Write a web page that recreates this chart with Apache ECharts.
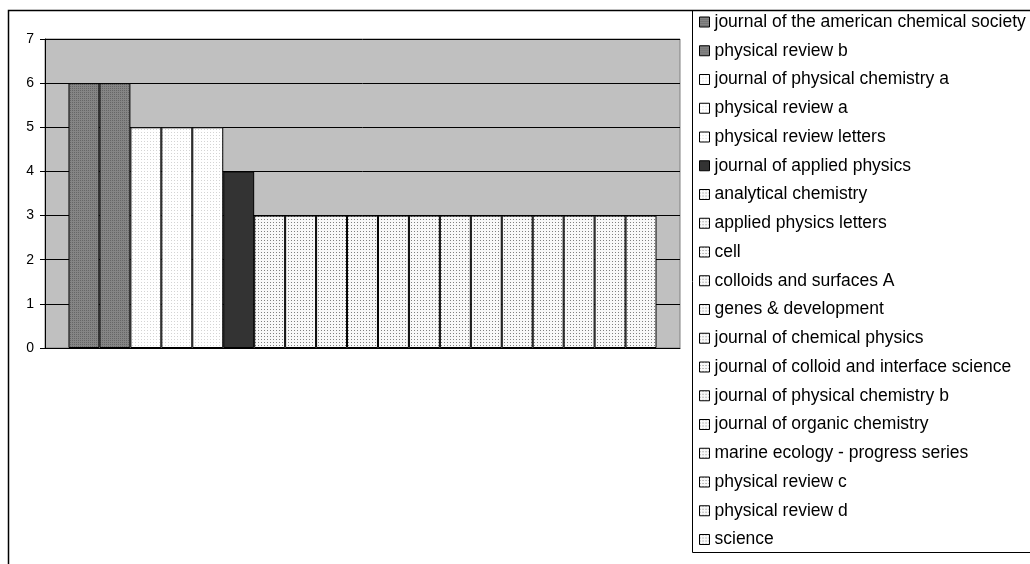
<!DOCTYPE html>
<html><head><meta charset="utf-8">
<script src="https://cdn.jsdelivr.net/npm/echarts@6/dist/echarts.min.js"></script>
<style>html,body{margin:0;padding:0;background:#fff}#c{width:1030px;height:564px}</style>
</head><body><div id="c"></div>
<script>
const journals = [
  "journal of the american chemical society",
  "physical review b",
  "journal of physical chemistry a",
  "physical review a",
  "physical review letters",
  "journal of applied physics",
  "analytical chemistry",
  "applied physics letters",
  "cell",
  "colloids and surfaces A",
  "genes & development",
  "journal of chemical physics",
  "journal of colloid and interface science",
  "journal of physical chemistry b",
  "journal of organic chemistry",
  "marine ecology - progress series",
  "physical review c",
  "physical review d",
  "science"
];
const counts = [6, 6, 5, 5, 5, 4, 3, 3, 3, 3, 3, 3, 3, 3, 3, 3, 3, 3, 3];
const yTicks = [0, 1, 2, 3, 4, 5, 6, 7];

function pattern(bg, dot, step) {
  const c = document.createElement('canvas');
  c.width = step; c.height = step;
  const g = c.getContext('2d');
  g.fillStyle = bg; g.fillRect(0, 0, step, step);
  g.fillStyle = dot; g.fillRect(0, 0, 1, 1);
  return { image: c, repeat: 'repeat' };
}
const fills = {
  gray: pattern('#858585', '#666666', 2),
  white: pattern('#ffffff', '#d4d4d4', 3),
  black: '#333333',
  dotted: pattern('#f8f8f8', '#808080', 3)
};
const styleOf = [ 'gray','gray','white','white','white','black','dotted',
  'dotted','dotted','dotted','dotted','dotted','dotted','dotted','dotted','dotted','dotted','dotted','dotted'];

const chart = echarts.init(document.getElementById('c'));
const font = '"Liberation Sans", Arial, sans-serif';
chart.setOption({
  animation: false,
  textStyle: { fontFamily: font },
  graphic: [
    { type: 'rect', shape: { x: 8.5, y: 10.5, width: 1100, height: 700 }, style: { fill: 'none', stroke: '#000', lineWidth: 1.5 }, z: 100 },
    { type: 'rect', shape: { x: 692.5, y: 10.5, width: 400, height: 542 }, style: { fill: 'none', stroke: '#000', lineWidth: 1 }, z: 100 }
  ],
  grid: { left: 45, top: 39, width: 635, height: 309, show: true, backgroundColor: '#c0c0c0', borderColor: '#808080', borderWidth: 1 },
  legend: {
    orient: 'vertical', left: 699, top: 13, padding: 0,
    itemWidth: 10, itemHeight: 10, itemGap: 10.75, icon: 'rect',
    itemStyle: { borderColor: '#000', borderWidth: 1 },
    textStyle: { fontFamily: font, fontSize: 17.5, color: '#000', lineHeight: 18 },
    data: journals, selectedMode: false
  },
  xAxis: {
    type: 'category', data: [''],
    axisLine: { show: true, lineStyle: { color: '#000', width: 1 } },
    axisTick: { show: false }, axisLabel: { show: false }
  },
  yAxis: {
    type: 'value', min: yTicks[0], max: yTicks[yTicks.length - 1], interval: 1,
    axisLine: { show: true, lineStyle: { color: '#000', width: 1 } },
    axisTick: { show: true, length: 5, lineStyle: { color: '#000' } },
    axisLabel: { fontFamily: font, fontSize: 14, color: '#000', margin: 11 },
    splitLine: { show: true, lineStyle: { color: '#000', width: 1 } }
  },
  series: journals.map((name, i) => ({
    name, type: 'bar', data: [counts[i]],
    barGap: '0%', barCategoryGap: '7.4%',
    itemStyle: { color: fills[styleOf[i]], borderColor: '#000', borderWidth: 1 }
  }))
});
</script></body></html>
